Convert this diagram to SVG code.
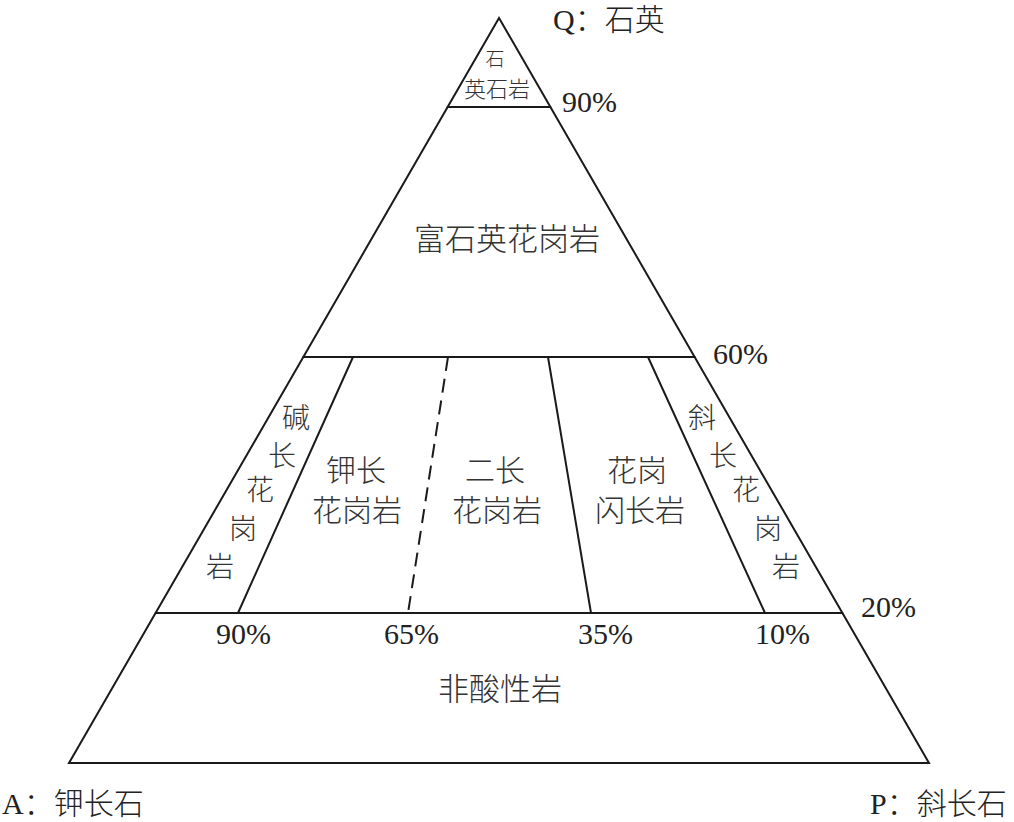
<svg xmlns="http://www.w3.org/2000/svg" width="1014" height="822" viewBox="0 0 1014 822">
<style>
.ln{stroke:#1a1a1a;stroke-width:2;fill:none;stroke-linecap:round}
.ds{stroke-dasharray:14 8;stroke-linecap:butt}
.c{font-family:"Noto Sans CJK SC","Noto Sans CJK TC",sans-serif;fill:#333;text-anchor:middle;font-weight:300}
.p{font-family:"Liberation Serif",serif;fill:#222;font-size:30px}
.k{font-family:"Noto Sans CJK SC",sans-serif;font-weight:300}
</style>
<rect width="1014" height="822" fill="#fff"/>
<g id="connectors">
<polygon class="ln" points="499,18 69,763 929,763"/>
<line class="ln" x1="447.6" y1="107" x2="550.4" y2="107"/>
<line class="ln" x1="303.3" y1="357" x2="694.7" y2="357"/>
<line class="ln" x1="155.6" y1="613" x2="842.4" y2="613"/>
<line class="ln" x1="353" y1="357" x2="238" y2="613"/>
<line class="ln ds" x1="448" y1="357" x2="408" y2="613"/>
<line class="ln" x1="548" y1="357" x2="591" y2="613"/>
<line class="ln" x1="648" y1="357" x2="765" y2="613"/>
</g>
<g id="apex-label"><text class="p" x="553" y="30">Q<tspan class="k">：石英</tspan></text></g>
<g id="quartzite"><text class="c" x="495" y="66" font-size="19">石</text><text class="c" x="497" y="97" font-size="22">英石岩</text></g>
<g id="quartz-rich"><text class="c" x="507" y="250" font-size="31">富石英花岗岩</text></g>
<g id="alkali-feldspar-granite">
<text class="c" x="296" y="428" font-size="28">碱</text>
<text class="c" x="282" y="466" font-size="28">长</text>
<text class="c" x="260" y="500" font-size="28">花</text>
<text class="c" x="243" y="539" font-size="28">岗</text>
<text class="c" x="220" y="577" font-size="28">岩</text>
</g>
<g id="syenogranite"><text class="c" x="356" y="481" font-size="30">钾长</text><text class="c" x="357" y="521" font-size="30">花岗岩</text></g>
<g id="monzogranite"><text class="c" x="495" y="481" font-size="30">二长</text><text class="c" x="497" y="521" font-size="30">花岗岩</text></g>
<g id="granodiorite"><text class="c" x="637" y="481" font-size="30">花岗</text><text class="c" x="640" y="521" font-size="30">闪长岩</text></g>
<g id="plagiogranite">
<text class="c" x="702" y="428" font-size="28">斜</text>
<text class="c" x="723" y="466" font-size="28">长</text>
<text class="c" x="746" y="500" font-size="28">花</text>
<text class="c" x="768" y="539" font-size="28">岗</text>
<text class="c" x="786" y="577" font-size="28">岩</text>
</g>
<g id="non-felsic"><text class="c" x="500" y="700" font-size="31">非酸性岩</text></g>
<g id="percent-labels">
<text class="p" x="562" y="112">90%</text>
<text class="p" x="713" y="364">60%</text>
<text class="p" x="861" y="617">20%</text>
<text class="p" x="216" y="644">90%</text>
<text class="p" x="384" y="644">65%</text>
<text class="p" x="578" y="644">35%</text>
<text class="p" x="755" y="644">10%</text>
</g>
<g id="corner-A"><text class="p" x="2" y="814">A<tspan class="k">：钾长石</tspan></text></g>
<g id="corner-P"><text class="p" x="870" y="814">P<tspan class="k">：斜长石</tspan></text></g>
</svg>
